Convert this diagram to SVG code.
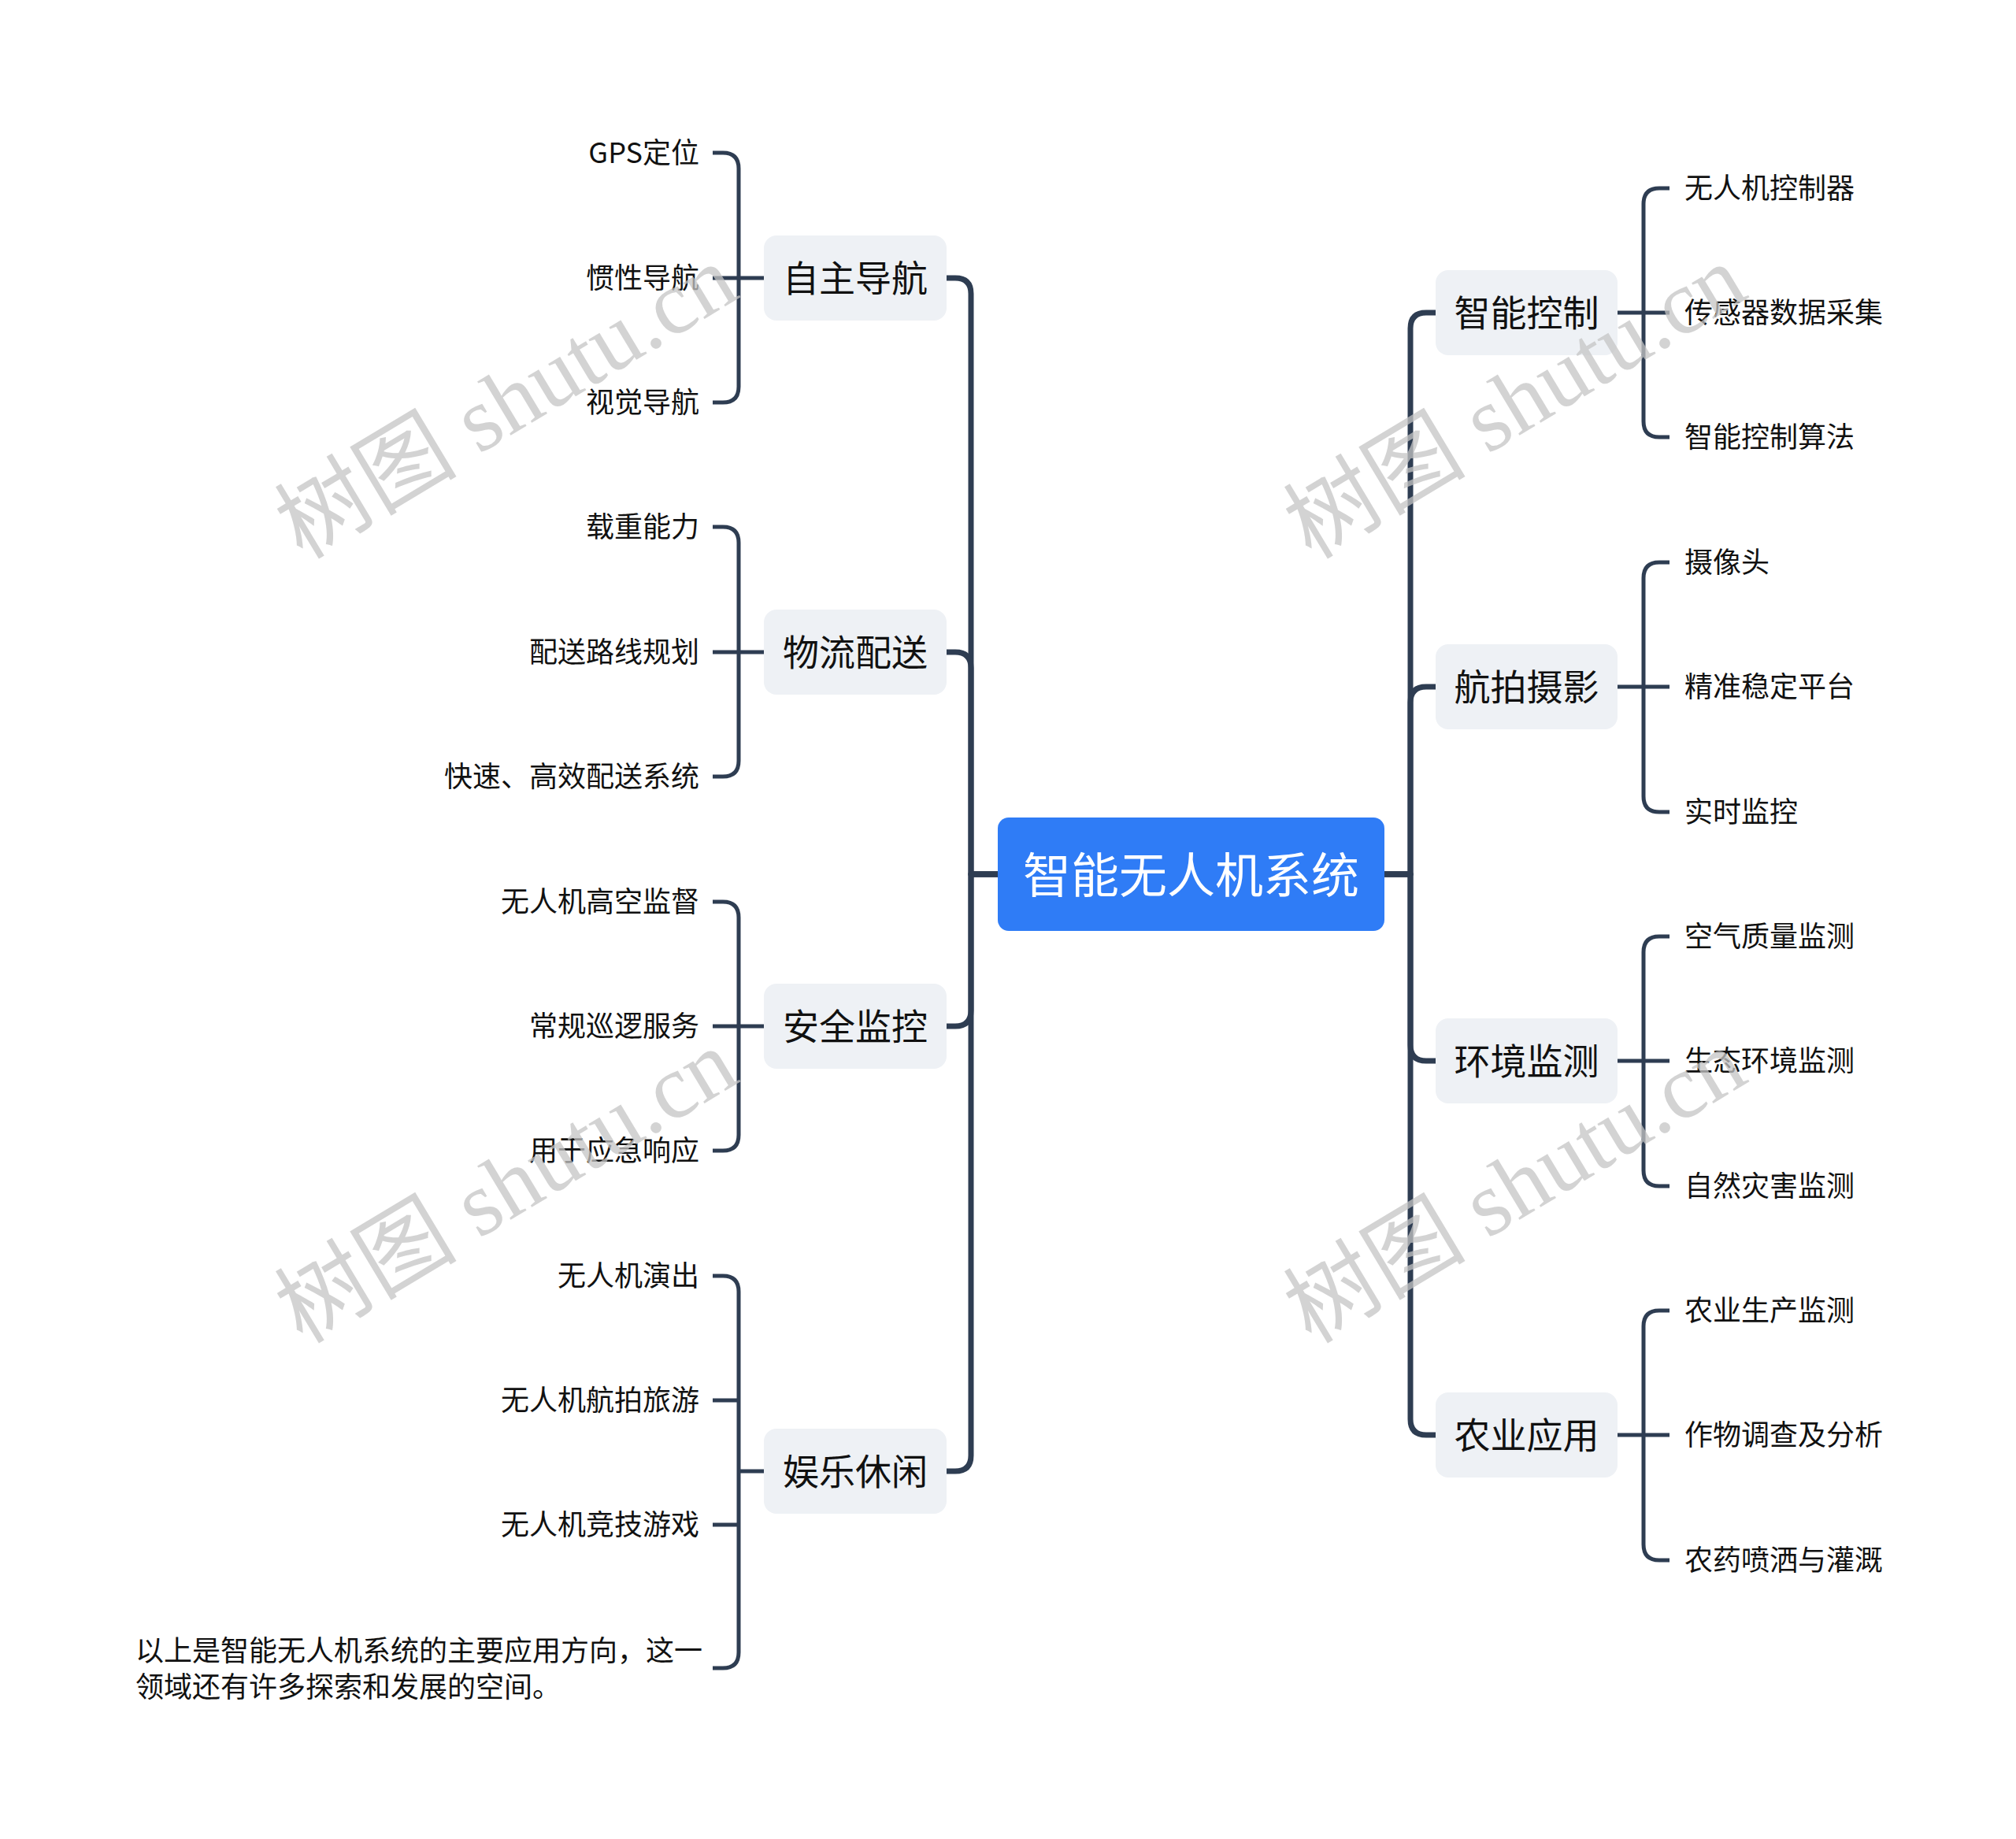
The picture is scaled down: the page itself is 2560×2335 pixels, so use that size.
<svg xmlns="http://www.w3.org/2000/svg" width="2560" height="2335" viewBox="0 0 2560 2335">
<style>
.bg{fill:#ffffff}
.root rect{fill:#2f7cf6}
.root text{fill:#ffffff;font-size:61px}
.branch rect{fill:#eef1f5}
.branch text{fill:#111111;font-size:46px}
text{font-family:"Noto Sans CJK SC","Noto Sans",sans-serif;dominant-baseline:central}
.leaf text{fill:#111111;font-size:36px}
.main{fill:none;stroke:#2e3d52;stroke-width:7;stroke-linejoin:round}
.sub{fill:none;stroke:#2e3d52;stroke-width:5;stroke-linejoin:round}
.wm{font-family:"Liberation Serif","Noto Sans CJK SC",serif;font-size:116px;fill:#c4c4c4;fill-opacity:0.75;dominant-baseline:alphabetic}
</style>
<rect class="bg" x="0" y="0" width="2560" height="2335"/>
<g id="connectors">
<path class="main" d="M1267,1110 H1233 V373 Q1233,353 1213,353 H1202"/>
<path class="main" d="M1267,1110 H1233 V848 Q1233,828 1213,828 H1202"/>
<path class="main" d="M1267,1110 H1233 V1283 Q1233,1303 1213,1303 H1202"/>
<path class="main" d="M1267,1110 H1233 V1848 Q1233,1868 1213,1868 H1202"/>
<path class="main" d="M1758,1110 H1791 V417 Q1791,397 1811,397 H1823"/>
<path class="main" d="M1758,1110 H1791 V892 Q1791,872 1811,872 H1823"/>
<path class="main" d="M1758,1110 H1791 V1327 Q1791,1347 1811,1347 H1823"/>
<path class="main" d="M1758,1110 H1791 V1802 Q1791,1822 1811,1822 H1823"/>
<path class="sub" d="M970,353 H905"/>
<path class="sub" d="M905,194 H918 Q938,194 938,214 V491 Q938,511 918,511 H905"/>
<path class="sub" d="M970,828 H905"/>
<path class="sub" d="M905,669 H918 Q938,669 938,689 V966 Q938,986 918,986 H905"/>
<path class="sub" d="M970,1303 H905"/>
<path class="sub" d="M905,1145 H918 Q938,1145 938,1165 V1441 Q938,1461 918,1461 H905"/>
<path class="sub" d="M970,1868 H938"/>
<path class="sub" d="M905,1620 H918 Q938,1620 938,1640 V2098 Q938,2118 918,2118 H905"/>
<path class="sub" d="M938,1778 H905"/>
<path class="sub" d="M938,1936 H905"/>
<path class="sub" d="M2054,397 H2120"/>
<path class="sub" d="M2120,239 H2107 Q2087,239 2087,259 V535 Q2087,555 2107,555 H2120"/>
<path class="sub" d="M2054,872 H2120"/>
<path class="sub" d="M2120,714 H2107 Q2087,714 2087,734 V1011 Q2087,1031 2107,1031 H2120"/>
<path class="sub" d="M2054,1347 H2120"/>
<path class="sub" d="M2120,1189 H2107 Q2087,1189 2087,1209 V1486 Q2087,1506 2107,1506 H2120"/>
<path class="sub" d="M2054,1822 H2120"/>
<path class="sub" d="M2120,1664 H2107 Q2087,1664 2087,1684 V1961 Q2087,1981 2107,1981 H2120"/>
</g>
<g id="root" class="root"><rect x="1267" y="1038" width="491" height="144" rx="14"/><text x="1512.5" y="1107" text-anchor="middle">智能无人机系统</text></g>
<g id="b1" class="branch"><rect x="970" y="299" width="232" height="108" rx="16"/><text x="1086" y="350" text-anchor="middle">自主导航</text></g>
<g id="b2" class="branch"><rect x="970" y="774" width="232" height="108" rx="16"/><text x="1086" y="825" text-anchor="middle">物流配送</text></g>
<g id="b3" class="branch"><rect x="970" y="1249" width="232" height="108" rx="16"/><text x="1086" y="1300" text-anchor="middle">安全监控</text></g>
<g id="b4" class="branch"><rect x="970" y="1814" width="232" height="108" rx="16"/><text x="1086" y="1865" text-anchor="middle">娱乐休闲</text></g>
<g id="b5" class="branch"><rect x="1823" y="343" width="231" height="108" rx="16"/><text x="1938.5" y="394" text-anchor="middle">智能控制</text></g>
<g id="b6" class="branch"><rect x="1823" y="818" width="231" height="108" rx="16"/><text x="1938.5" y="869" text-anchor="middle">航拍摄影</text></g>
<g id="b7" class="branch"><rect x="1823" y="1293" width="231" height="108" rx="16"/><text x="1938.5" y="1344" text-anchor="middle">环境监测</text></g>
<g id="b8" class="branch"><rect x="1823" y="1768" width="231" height="108" rx="16"/><text x="1938.5" y="1819" text-anchor="middle">农业应用</text></g>
<g class="leaf" text-anchor="end">
<g id="l1"><text x="888" y="191">GPS定位</text></g>
<g id="l2"><text x="888" y="350">惯性导航</text></g>
<g id="l3"><text x="888" y="508">视觉导航</text></g>
<g id="l4"><text x="888" y="666">载重能力</text></g>
<g id="l5"><text x="888" y="825">配送路线规划</text></g>
<g id="l6"><text x="888" y="983">快速、高效配送系统</text></g>
<g id="l7"><text x="888" y="1142">无人机高空监督</text></g>
<g id="l8"><text x="888" y="1300">常规巡逻服务</text></g>
<g id="l9"><text x="888" y="1458">用于应急响应</text></g>
<g id="l10"><text x="888" y="1617">无人机演出</text></g>
<g id="l11"><text x="888" y="1775">无人机航拍旅游</text></g>
<g id="l12"><text x="888" y="1933">无人机竞技游戏</text></g>
</g>
<g id="l13" class="leaf"><text x="172" y="2093">以上是智能无人机系统的主要应用方向，这一</text><text x="172" y="2139">领域还有许多探索和发展的空间。</text></g>
<g class="leaf">
<g id="r1"><text x="2139" y="236">无人机控制器</text></g>
<g id="r2"><text x="2139" y="394">传感器数据采集</text></g>
<g id="r3"><text x="2139" y="552">智能控制算法</text></g>
<g id="r4"><text x="2139" y="711">摄像头</text></g>
<g id="r5"><text x="2139" y="869">精准稳定平台</text></g>
<g id="r6"><text x="2139" y="1028">实时监控</text></g>
<g id="r7"><text x="2139" y="1186">空气质量监测</text></g>
<g id="r8"><text x="2139" y="1344">生态环境监测</text></g>
<g id="r9"><text x="2139" y="1503">自然灾害监测</text></g>
<g id="r10"><text x="2139" y="1661">农业生产监测</text></g>
<g id="r11"><text x="2139" y="1819">作物调查及分析</text></g>
<g id="r12"><text x="2139" y="1978">农药喷洒与灌溉</text></g>
</g>
<g id="watermarks">
<text class="wm" x="663" y="544" text-anchor="middle" transform="rotate(-31 663 544)">树图 shutu.cn</text>
<text class="wm" x="1944" y="544" text-anchor="middle" transform="rotate(-31 1944 544)">树图 shutu.cn</text>
<text class="wm" x="663" y="1540" text-anchor="middle" transform="rotate(-31 663 1540)">树图 shutu.cn</text>
<text class="wm" x="1944" y="1540" text-anchor="middle" transform="rotate(-31 1944 1540)">树图 shutu.cn</text>
</g>
</svg>
